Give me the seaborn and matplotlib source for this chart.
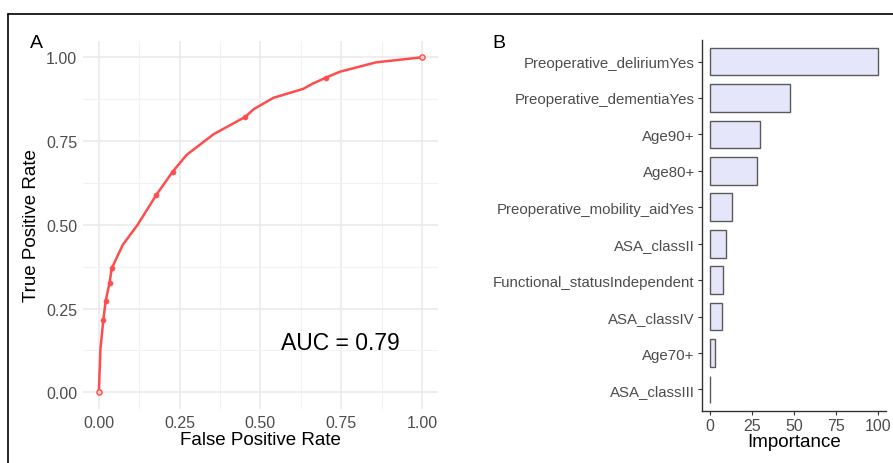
import matplotlib
matplotlib.use("Agg")
import matplotlib.pyplot as plt
from matplotlib.lines import Line2D
from matplotlib.ticker import MultipleLocator
import pandas as pd
import seaborn as sns

# ROC curve
fpr = [0.0, 0.005, 0.014, 0.021, 0.033, 0.040, 0.074, 0.120, 0.177, 0.228,
       0.272, 0.356, 0.453, 0.479, 0.540, 0.633, 0.663, 0.702, 0.746, 0.858, 1.0]
tpr = [0.0, 0.13, 0.217, 0.272, 0.327, 0.370, 0.44, 0.50, 0.588, 0.658,
       0.709, 0.771, 0.822, 0.845, 0.879, 0.906, 0.922, 0.939, 0.957, 0.985, 1.0]
marker_fpr = [0.014, 0.021, 0.033, 0.040, 0.177, 0.228, 0.453, 0.702]
marker_tpr = [0.217, 0.272, 0.327, 0.370, 0.588, 0.658, 0.822, 0.939]
end_fpr = [0.0, 1.0]
end_tpr = [0.0, 1.0]
auc_label = "AUC = 0.79"

# variable importance, panel B
features = ["Preoperative_deliriumYes", "Preoperative_dementiaYes", "Age90+", "Age80+",
            "Preoperative_mobility_aidYes", "ASA_classII", "Functional_statusIndependent",
            "ASA_classIV", "Age70+", "ASA_classIII"]
importance = [100, 47.8, 30.0, 27.8, 13.1, 9.5, 7.5, 6.9, 3.2, 0.2]

sns.set_theme(style="white")
plt.rcParams['font.family'] = ['Liberation Sans', 'DejaVu Sans']
plt.rcParams['text.color'] = 'black'
plt.rcParams['axes.labelcolor'] = 'black'

fig = plt.figure(figsize=(8.93, 4.64), dpi=100)
red = "#FF4D4D"
grey_txt = "#4D4D4D"

# ---- panel A
ax1 = fig.add_axes([0.0926, 0.1164, 0.398, 0.794])
roc = pd.DataFrame({"fpr": fpr, "tpr": tpr})
sns.lineplot(data=roc, x="fpr", y="tpr", ax=ax1, color=red, linewidth=1.8, sort=False)
sns.scatterplot(x=marker_fpr, y=marker_tpr, ax=ax1, color=red, s=14, edgecolor=red, zorder=3)
sns.scatterplot(x=end_fpr, y=end_tpr, ax=ax1, color="#FFD0D0", s=14, edgecolor=red,
                linewidth=1.0, zorder=3)
ax1.set_xlim(-0.05, 1.05)
ax1.set_ylim(-0.05, 1.05)
ax1.xaxis.set_minor_locator(MultipleLocator(0.125))
ax1.yaxis.set_minor_locator(MultipleLocator(0.125))
ax1.set_xticks([0, 0.25, 0.5, 0.75, 1.0])
ax1.set_xticklabels(["0.00", "0.25", "0.50", "0.75", "1.00"])
ax1.set_yticks([0, 0.25, 0.5, 0.75, 1.0])
ax1.set_yticklabels(["0.00", "0.25", "0.50", "0.75", "1.00"])
ax1.grid(True, which="major", color="#EBEBEB", linewidth=1.2)
ax1.grid(True, which="minor", color="#F2F2F2", linewidth=0.8)
ax1.set_axisbelow(True)
for s in ax1.spines.values():
    s.set_visible(False)
ax1.tick_params(which="both", length=0, labelsize=11.5, labelcolor=grey_txt, pad=4)
ax1.set_xlabel("False Positive Rate", fontsize=13.5, labelpad=1)
ax1.set_ylabel("True Positive Rate", fontsize=13.5, labelpad=4)
ax1.text(0.748, 0.15, auc_label, fontsize=16.5, ha="center", va="center")

# ---- panel B
ax2 = fig.add_axes([0.7858, 0.1114, 0.2064, 0.8009])
imp = pd.DataFrame({"feature": features, "importance": importance})
sns.barplot(data=imp, x="importance", y="feature", ax=ax2, color="#E6E6FA",
            edgecolor="#5A5A5A", linewidth=1.0, width=0.76, saturation=1)
ax2.set_xlim(-5, 105)
ax2.set_ylim(len(features) - 0.4, -0.6)
ax2.set_xticks([0, 25, 50, 75, 100])
ax2.spines["top"].set_visible(False)
ax2.spines["right"].set_visible(False)
for s in ["left", "bottom"]:
    ax2.spines[s].set_color("#333333")
    ax2.spines[s].set_linewidth(1.0)
ax2.tick_params(axis="both", length=3, width=0.8, color="#333333", labelsize=10.8,
                labelcolor=grey_txt, pad=2, left=True, bottom=True)
ax2.tick_params(axis="x", labelsize=11.5)
ax2.set_xlabel("Importance", fontsize=13.5, labelpad=0)
ax2.set_ylabel("")

# panel letters and frame
fig.text(30 / 893, 1 - 43 / 464, "A", fontsize=14, va="center", ha="left")
fig.text(492 / 893, 1 - 43 / 464, "B", fontsize=14, va="center", ha="left")
fig.add_artist(Line2D([8 / 893, 1.0], [1 - 15 / 464, 1 - 15 / 464], color="black", linewidth=1.2))
fig.add_artist(Line2D([8 / 893, 8 / 893], [0, 1 - 15 / 464], color="black", linewidth=1.2))

fig.savefig("out.png", dpi=100)
